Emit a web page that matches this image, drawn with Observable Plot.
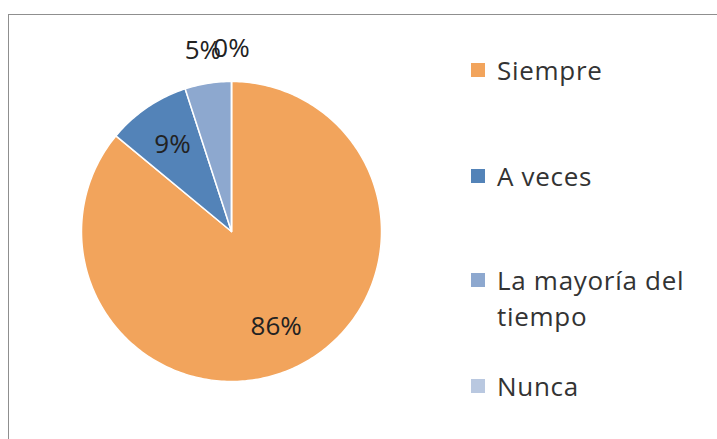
<!DOCTYPE html>
<html>
<head>
<meta charset="utf-8">
<script src="https://cdn.jsdelivr.net/npm/d3@7"></script>
<script src="https://cdn.jsdelivr.net/npm/@observablehq/plot@0.6"></script>
<style>
  html, body { margin: 0; padding: 0; background: #fff; }
  #wrap { position: relative; width: 717px; height: 439px; overflow: hidden; font-family: "Open Sans", Lato, sans-serif; color: #333; }
  #frame { position: absolute; left: 8px; top: 14px; width: 800px; height: 500px; border: 1.5px solid #8f8f8f; box-sizing: border-box; }
  #chart { position: absolute; left: 0; top: 0; }
  #legend { position: absolute; left: 471px; top: 0; width: 246px; }
  .item { position: absolute; left: 0; display: flex; align-items: flex-start; font-size: 26px; line-height: 36px; letter-spacing: 0.7px; white-space: nowrap; }
  .sw { width: 14px; height: 14px; margin-top: 11px; margin-right: 12px; flex: none; }
</style>
</head>
<body>
<div id="wrap">
  <div id="frame"></div>
  <div id="chart"></div>
  <div id="legend"></div>
</div>
<script>
const categories = ["Siempre", "A veces", "La mayoría del tiempo", "Nunca"];
const shares = [86, 9, 5, 0];
const labels = ["86%", "9%", "5%", "0%"];
const colors = ["#F2A45C", "#5383B8", "#8DA8CF", "#B9C8E0"];
const legendLines = [["Siempre"], ["A veces"], ["La mayoría del", "tiempo"], ["Nunca"]];

const data = categories.map((c, i) => ({category: c, value: shares[i], label: labels[i]}));
const arcs = d3.pie().sort(null).value(d => d.value).startAngle(0).endAngle(2 * Math.PI)(data);

// slice polygons in unit-circle coordinates (angle clockwise from top)
const points = [];
for (const a of arcs) {
  const cat = a.data.category;
  points.push({category: cat, x: 0, y: 0});
  const n = Math.max(1, Math.ceil((a.endAngle - a.startAngle) / (Math.PI / 180)));
  for (let k = 0; k <= n; k++) {
    const t = a.startAngle + (a.endAngle - a.startAngle) * k / n;
    points.push({category: cat, x: Math.sin(t), y: Math.cos(t)});
  }
  points.push({category: cat, x: 0, y: 0});
}

const labelPts = arcs.map(a => {
  const mid = (a.startAngle + a.endAngle) / 2;
  const r = a.data.value < 6 ? 1.22 : 0.7;
  return {label: a.data.label, x: r * Math.sin(mid), y: r * Math.cos(mid)};
});

const cx = 231, cy = 231, R = 150;
const plot = Plot.plot({
  width: 460,
  height: 439,
  margin: 0,
  x: {domain: [-1, 1], range: [cx - R, cx + R], axis: null},
  y: {domain: [-1, 1], range: [cy + R, cy - R], axis: null},
  color: {domain: categories, range: colors},
  style: {background: "transparent", overflow: "visible"},
  marks: [
    Plot.line(points, {x: "x", y: "y", z: "category", fill: "category", stroke: "white", strokeWidth: 1.5, strokeLinejoin: "round", curve: "linear"}),
    Plot.text(labelPts, {x: "x", y: "y", text: "label", fontSize: 26, fill: "#222", fontFamily: "'Open Sans', sans-serif"})
  ]
});
document.getElementById("chart").appendChild(plot);

// legend
const tops = [52, 158, 262, 368];
const legend = document.getElementById("legend");
categories.forEach((c, i) => {
  const it = document.createElement("div");
  it.className = "item";
  it.style.top = tops[i] + "px";
  const sw = document.createElement("div");
  sw.className = "sw";
  sw.style.background = colors[i];
  const tx = document.createElement("div");
  tx.innerHTML = legendLines[i].join("<br>");
  it.appendChild(sw); it.appendChild(tx);
  legend.appendChild(it);
});
</script>
</body>
</html>
